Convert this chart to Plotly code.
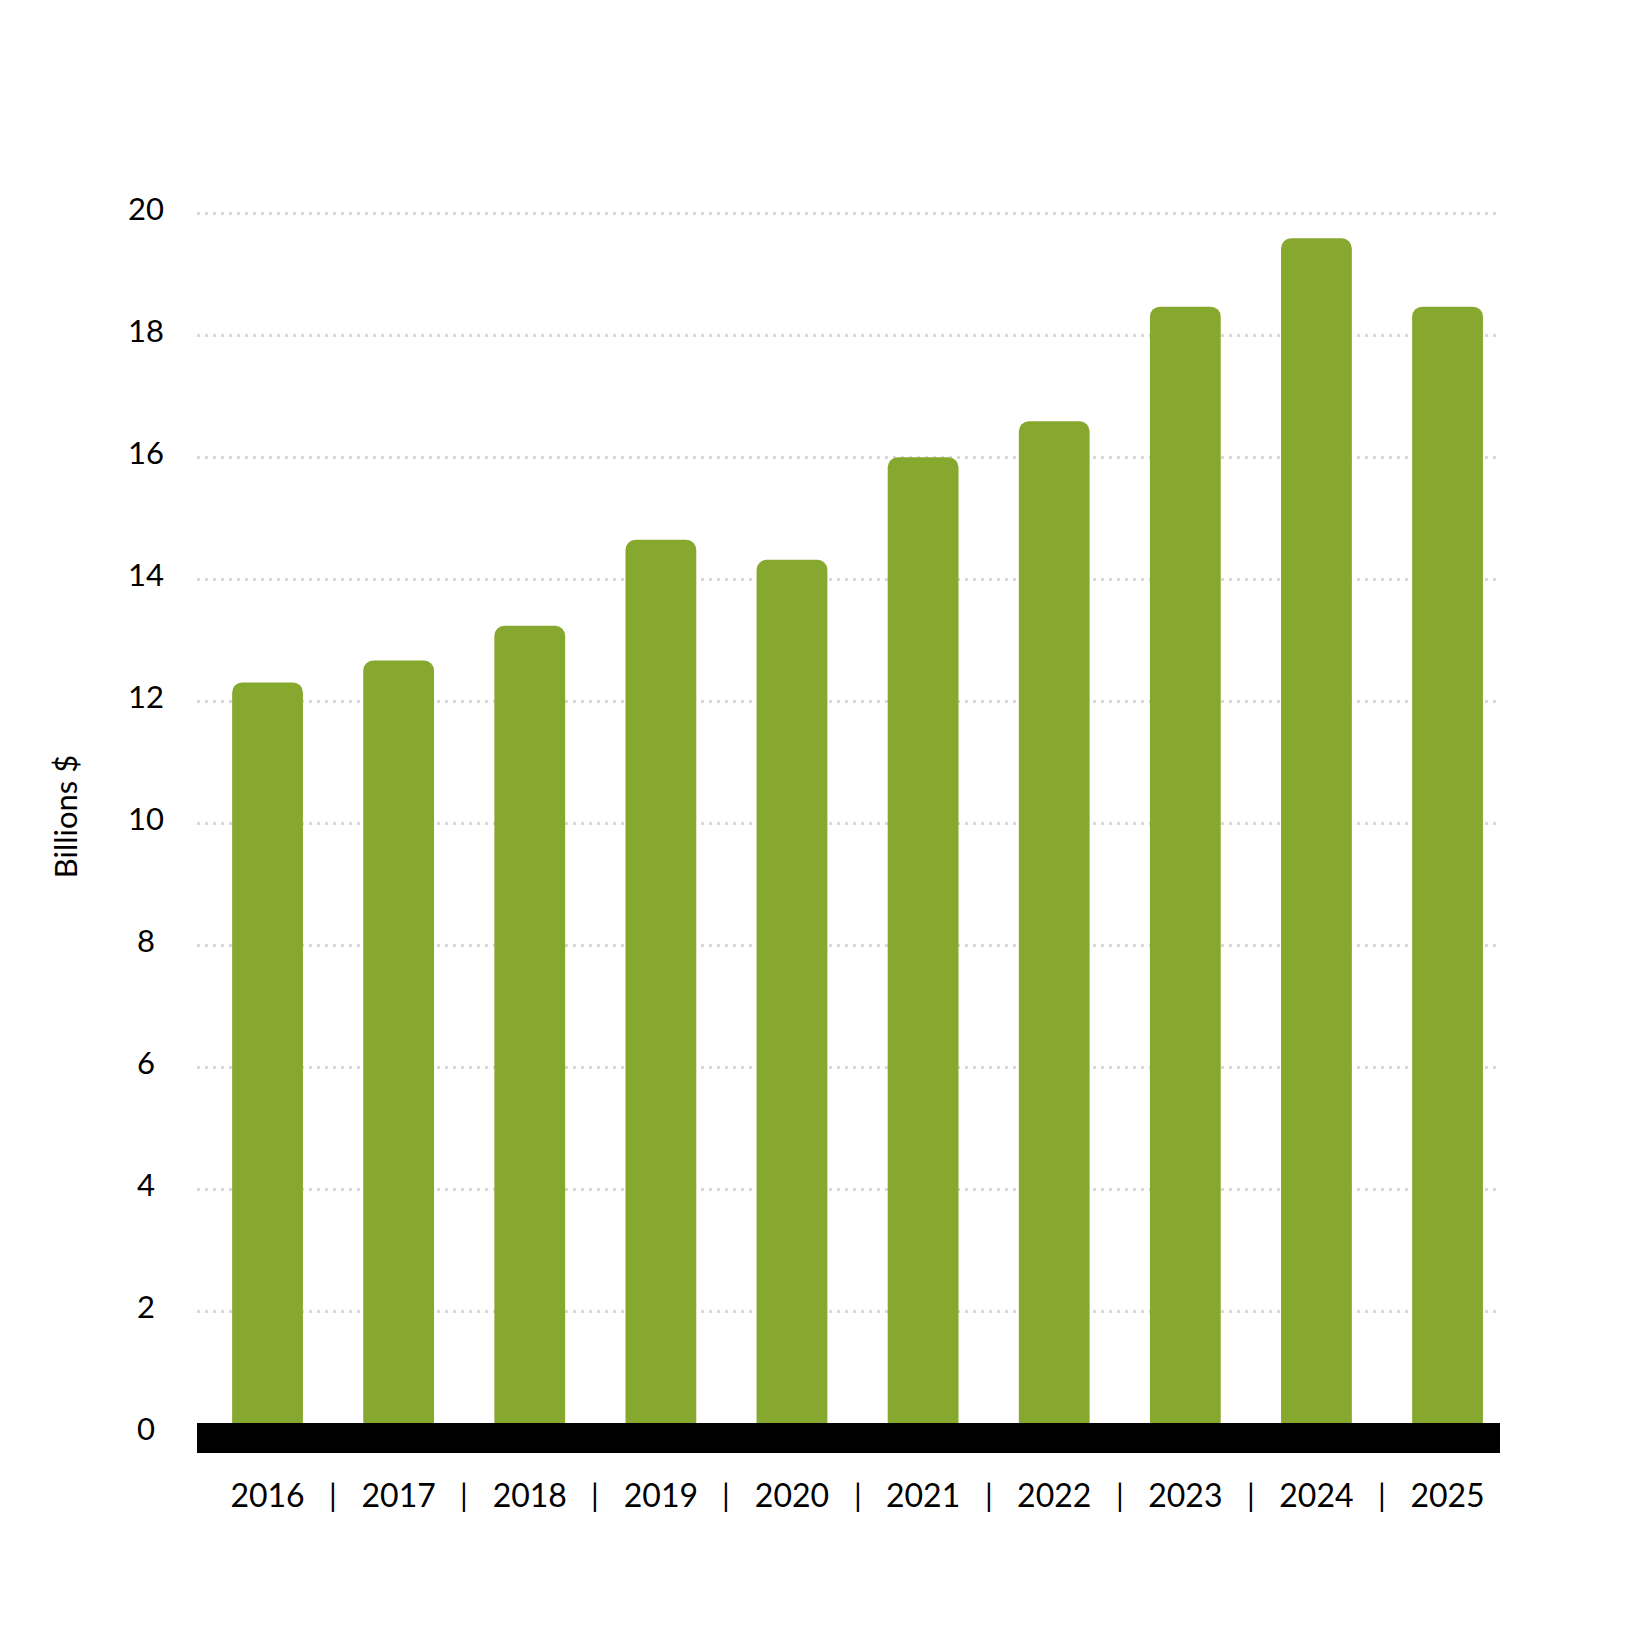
import plotly.graph_objects as go

#%% Data
years = ['2016', '2017', '2018', '2019', '2020', '2021', '2022', '2023', '2024', '2025']
values = [12.31, 12.67, 13.24, 14.65, 14.32, 16.0, 16.59, 18.47, 19.59, 18.47]
y_ticks = [0, 2, 4, 6, 8, 10, 12, 14, 16, 18, 20]
separator = '|'
y_title = 'Billions $'

FONT = 'Lato'
GREEN = '#87a82f'

#%% Figure
fig = go.Figure()

fig.add_trace(go.Bar(
    x=list(range(len(years))),
    y=values,
    marker=dict(color=GREEN, cornerradius=10, line=dict(width=0)),
    hoverinfo='skip',
))

# thick black baseline at zero
fig.add_shape(type='rect', xref='paper', yref='y',
              x0=0, x1=1, y0=-0.323, y1=0.167,
              fillcolor='black', line=dict(width=0), layer='above')

# "|" separators between the year labels
for i in range(len(years) - 1):
    fig.add_annotation(x=i + 0.5, xref='x', y=-0.033, yref='paper',
                       text=separator, showarrow=False, yanchor='middle',
                       font=dict(family=FONT, size=31, color='black'))

# y tick labels, centred in their column, sitting a little above the lines
for v in y_ticks:
    fig.add_annotation(x=-0.039, xref='paper', y=v, yref='y', yshift=5,
                       text=str(v), showarrow=False,
                       xanchor='center', yanchor='middle',
                       font=dict(family=FONT, size=31, color='black'))

# y axis title
fig.add_annotation(x=-0.1015, xref='paper', y=0.5, yref='paper',
                   text=y_title, textangle=-90, showarrow=False,
                   xanchor='center', yanchor='middle',
                   font=dict(family=FONT, size=31, color='black'))

fig.update_layout(
    width=1650, height=1650,
    margin=dict(l=189, r=158, t=172, b=205, autoexpand=False),
    paper_bgcolor='white', plot_bgcolor='white',
    showlegend=False,
    bargap=0.46,
    font=dict(family=FONT, color='black'),
)

fig.update_xaxes(
    tickmode='array', tickvals=list(range(len(years))), ticktext=years,
    range=[-0.538, len(years) - 0.6],
    showgrid=False, zeroline=False, showline=False, ticks='',
    tickfont=dict(family=FONT, size=32, color='black'),
    ticklabelstandoff=21,
)

fig.update_yaxes(
    tickmode='array', tickvals=y_ticks,
    range=[-0.323, 20.547],
    showgrid=True, gridcolor='#d9d9d9', gridwidth=3, griddash='3px,5px',
    zeroline=False, showline=False, ticks='',
    showticklabels=False,
)

fig.write_html('out.html')
